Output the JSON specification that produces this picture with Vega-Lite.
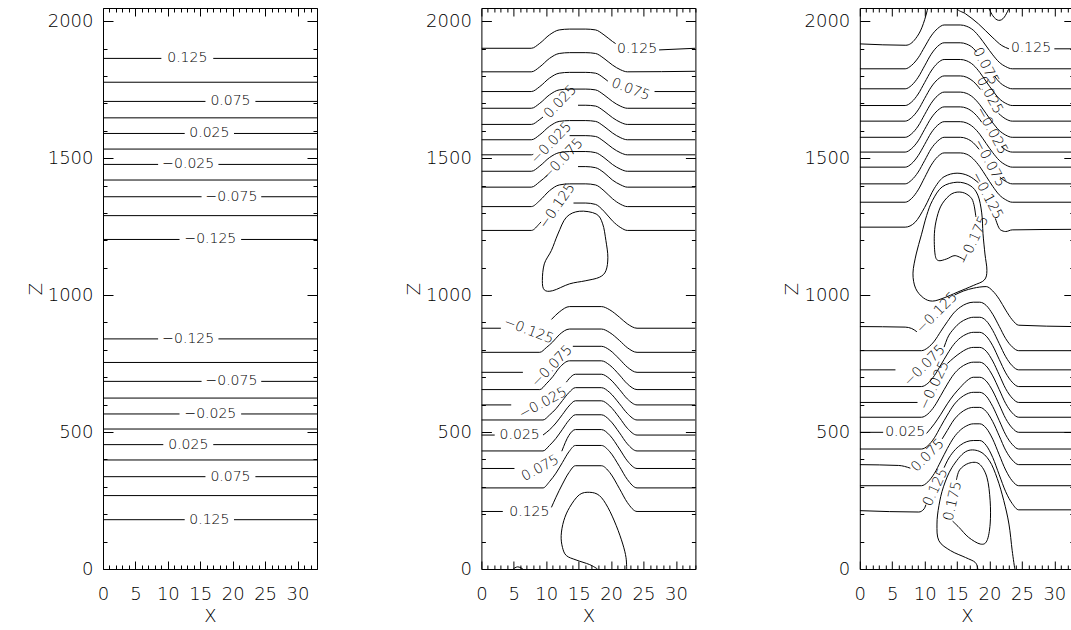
{
"$schema":"https://vega.github.io/schema/vega-lite/v6.json",
"padding":{"left":27,"top":7,"right":0,"bottom":0},
"bounds":"flush",
"spacing":164.4,
"config":{"view":{"stroke":null},
 "text":{"font":"DejaVu Sans","fontWeight":200},
 "axis":{"domainColor":"#000","tickColor":"#000","labelColor":"#000","titleColor":"#000","labelFont":"DejaVu Sans","titleFont":"DejaVu Sans","labelFontSize":18,"titleFontSize":18,"labelFontWeight":200,"titleFontWeight":200,"grid":false,"labelFlush":false,"labelOverlap":false,"domainWidth":1,"tickWidth":1,"format":"d"}},
"datasets":{
"lines":[
{"p":1,"id":"u1a","x":0,"z":1864},{"p":1,"id":"u1a","x":9.0,"z":1864},{"p":1,"id":"u1b","x":17.0,"z":1864},{"p":1,"id":"u1b","x":33,"z":1864},
{"p":1,"id":"u2","x":0,"z":1777},{"p":1,"id":"u2","x":33,"z":1777},
{"p":1,"id":"u3a","x":0,"z":1707},{"p":1,"id":"u3a","x":15.8,"z":1707},{"p":1,"id":"u3b","x":23.5,"z":1707},{"p":1,"id":"u3b","x":33,"z":1707},
{"p":1,"id":"u4","x":0,"z":1647},{"p":1,"id":"u4","x":33,"z":1647},
{"p":1,"id":"u5a","x":0,"z":1590},{"p":1,"id":"u5a","x":12.6,"z":1590},{"p":1,"id":"u5b","x":20.2,"z":1590},{"p":1,"id":"u5b","x":33,"z":1590},
{"p":1,"id":"u6","x":0,"z":1533},{"p":1,"id":"u6","x":33,"z":1533},
{"p":1,"id":"u7a","x":0,"z":1477},{"p":1,"id":"u7a","x":8.5,"z":1477},{"p":1,"id":"u7b","x":17.8,"z":1477},{"p":1,"id":"u7b","x":33,"z":1477},
{"p":1,"id":"u8","x":0,"z":1420},{"p":1,"id":"u8","x":33,"z":1420},
{"p":1,"id":"u9a","x":0,"z":1359},{"p":1,"id":"u9a","x":15.2,"z":1359},{"p":1,"id":"u9b","x":24.4,"z":1359},{"p":1,"id":"u9b","x":33,"z":1359},
{"p":1,"id":"u10","x":0,"z":1290},{"p":1,"id":"u10","x":33,"z":1290},
{"p":1,"id":"u11a","x":0,"z":1203},{"p":1,"id":"u11a","x":11.8,"z":1203},{"p":1,"id":"u11b","x":21.3,"z":1203},{"p":1,"id":"u11b","x":33,"z":1203},
{"p":1,"id":"d1a","x":0,"z":840},{"p":1,"id":"d1a","x":8.5,"z":840},{"p":1,"id":"d1b","x":17.8,"z":840},{"p":1,"id":"d1b","x":33,"z":840},
{"p":1,"id":"d2","x":0,"z":754},{"p":1,"id":"d2","x":33,"z":754},
{"p":1,"id":"d3a","x":0,"z":685},{"p":1,"id":"d3a","x":15.2,"z":685},{"p":1,"id":"d3b","x":24.4,"z":685},{"p":1,"id":"d3b","x":33,"z":685},
{"p":1,"id":"d4","x":0,"z":624},{"p":1,"id":"d4","x":33,"z":624},
{"p":1,"id":"d5a","x":0,"z":566},{"p":1,"id":"d5a","x":11.8,"z":566},{"p":1,"id":"d5b","x":21.3,"z":566},{"p":1,"id":"d5b","x":33,"z":566},
{"p":1,"id":"d6","x":0,"z":511},{"p":1,"id":"d6","x":33,"z":511},
{"p":1,"id":"d7a","x":0,"z":454},{"p":1,"id":"d7a","x":9.3,"z":454},{"p":1,"id":"d7b","x":17.0,"z":454},{"p":1,"id":"d7b","x":33,"z":454},
{"p":1,"id":"d8","x":0,"z":398},{"p":1,"id":"d8","x":33,"z":398},
{"p":1,"id":"d9a","x":0,"z":337},{"p":1,"id":"d9a","x":15.8,"z":337},{"p":1,"id":"d9b","x":23.5,"z":337},{"p":1,"id":"d9b","x":33,"z":337},
{"p":1,"id":"d10","x":0,"z":268},{"p":1,"id":"d10","x":33,"z":268},
{"p":1,"id":"d11a","x":0,"z":180},{"p":1,"id":"d11a","x":12.6,"z":180},{"p":1,"id":"d11b","x":20.2,"z":180},{"p":1,"id":"d11b","x":33,"z":180},

{"p":2,"id":"u1a","x":0,"z":1901},{"p":2,"id":"u1a","x":7.7,"z":1901},{"p":2,"id":"u1a","x":9,"z":1919},{"p":2,"id":"u1a","x":10.5,"z":1950},{"p":2,"id":"u1a","x":12,"z":1968},{"p":2,"id":"u1a","x":13.6,"z":1971},{"p":2,"id":"u1a","x":16.1,"z":1971},{"p":2,"id":"u1a","x":17.6,"z":1968},{"p":2,"id":"u1a","x":18.9,"z":1950},{"p":2,"id":"u1a","x":20.2,"z":1926},{"p":2,"id":"u1a","x":20.7,"z":1918},
{"p":2,"id":"u1b","x":27.4,"z":1895},{"p":2,"id":"u1b","x":33,"z":1901},
{"p":2,"id":"u2","x":0,"z":1815},{"p":2,"id":"u2","x":7.7,"z":1815},{"p":2,"id":"u2","x":9,"z":1833},{"p":2,"id":"u2","x":10.5,"z":1864},{"p":2,"id":"u2","x":12,"z":1882},{"p":2,"id":"u2","x":13.6,"z":1885},{"p":2,"id":"u2","x":16.1,"z":1885},{"p":2,"id":"u2","x":17.6,"z":1882},{"p":2,"id":"u2","x":18.9,"z":1864},{"p":2,"id":"u2","x":20.2,"z":1840},{"p":2,"id":"u2","x":21.5,"z":1822},{"p":2,"id":"u2","x":22.5,"z":1815},{"p":2,"id":"u2","x":33,"z":1817},
{"p":2,"id":"u3a","x":0,"z":1743},{"p":2,"id":"u3a","x":7.7,"z":1743},{"p":2,"id":"u3a","x":9,"z":1761},{"p":2,"id":"u3a","x":10.5,"z":1792},{"p":2,"id":"u3a","x":12,"z":1810},{"p":2,"id":"u3a","x":13.6,"z":1813},{"p":2,"id":"u3a","x":16.1,"z":1813},{"p":2,"id":"u3a","x":17.6,"z":1810},{"p":2,"id":"u3a","x":18.9,"z":1792},{"p":2,"id":"u3a","x":19.5,"z":1781},
{"p":2,"id":"u3b","x":26.7,"z":1743},{"p":2,"id":"u3b","x":33,"z":1743},
{"p":2,"id":"u4","x":0,"z":1682},{"p":2,"id":"u4","x":7.7,"z":1682},{"p":2,"id":"u4","x":9,"z":1700},{"p":2,"id":"u4","x":10.5,"z":1731},{"p":2,"id":"u4","x":12,"z":1749},{"p":2,"id":"u4","x":13.6,"z":1752},{"p":2,"id":"u4","x":16.1,"z":1752},{"p":2,"id":"u4","x":17.6,"z":1749},{"p":2,"id":"u4","x":18.9,"z":1731},{"p":2,"id":"u4","x":20.2,"z":1707},{"p":2,"id":"u4","x":21.5,"z":1689},{"p":2,"id":"u4","x":22.5,"z":1682},{"p":2,"id":"u4","x":33,"z":1682},
{"p":2,"id":"u5a","x":0,"z":1623},{"p":2,"id":"u5a","x":7.7,"z":1623},{"p":2,"id":"u5a","x":9,"z":1641},{"p":2,"id":"u5a","x":9.5,"z":1650},
{"p":2,"id":"u5b","x":14.9,"z":1693},{"p":2,"id":"u5b","x":16.1,"z":1693},{"p":2,"id":"u5b","x":17.6,"z":1690},{"p":2,"id":"u5b","x":18.9,"z":1672},{"p":2,"id":"u5b","x":20.2,"z":1648},{"p":2,"id":"u5b","x":21.5,"z":1630},{"p":2,"id":"u5b","x":22.5,"z":1623},{"p":2,"id":"u5b","x":33,"z":1623},
{"p":2,"id":"u6","x":0,"z":1567},{"p":2,"id":"u6","x":7.7,"z":1567},{"p":2,"id":"u6","x":9,"z":1585},{"p":2,"id":"u6","x":10.5,"z":1616},{"p":2,"id":"u6","x":12,"z":1634},{"p":2,"id":"u6","x":13.6,"z":1637},{"p":2,"id":"u6","x":16.1,"z":1637},{"p":2,"id":"u6","x":17.6,"z":1634},{"p":2,"id":"u6","x":18.9,"z":1616},{"p":2,"id":"u6","x":20.2,"z":1592},{"p":2,"id":"u6","x":21.5,"z":1574},{"p":2,"id":"u6","x":22.5,"z":1567},{"p":2,"id":"u6","x":33,"z":1567},
{"p":2,"id":"u7a","x":0,"z":1512},{"p":2,"id":"u7a","x":7.7,"z":1512},{"p":2,"id":"u7a","x":8.0,"z":1514},
{"p":2,"id":"u7b","x":13.6,"z":1582},{"p":2,"id":"u7b","x":16.1,"z":1582},{"p":2,"id":"u7b","x":17.6,"z":1579},{"p":2,"id":"u7b","x":18.9,"z":1561},{"p":2,"id":"u7b","x":20.2,"z":1537},{"p":2,"id":"u7b","x":21.5,"z":1519},{"p":2,"id":"u7b","x":22.5,"z":1512},{"p":2,"id":"u7b","x":33,"z":1512},
{"p":2,"id":"u8","x":0,"z":1452},{"p":2,"id":"u8","x":7.7,"z":1452},{"p":2,"id":"u8","x":9,"z":1471},{"p":2,"id":"u8","x":10.5,"z":1502},{"p":2,"id":"u8","x":12,"z":1520},{"p":2,"id":"u8","x":13.6,"z":1524},{"p":2,"id":"u8","x":16.1,"z":1524},{"p":2,"id":"u8","x":17.6,"z":1520},{"p":2,"id":"u8","x":18.9,"z":1502},{"p":2,"id":"u8","x":20.2,"z":1477},{"p":2,"id":"u8","x":21.5,"z":1459},{"p":2,"id":"u8","x":22.5,"z":1452},{"p":2,"id":"u8","x":33,"z":1452},
{"p":2,"id":"u9a","x":0,"z":1394},{"p":2,"id":"u9a","x":7.7,"z":1394},{"p":2,"id":"u9a","x":9,"z":1414},{"p":2,"id":"u9a","x":10.2,"z":1438},
{"p":2,"id":"u9b","x":14.9,"z":1469},{"p":2,"id":"u9b","x":16.1,"z":1469},{"p":2,"id":"u9b","x":17.6,"z":1465},{"p":2,"id":"u9b","x":18.9,"z":1447},{"p":2,"id":"u9b","x":20.2,"z":1420},{"p":2,"id":"u9b","x":21.5,"z":1402},{"p":2,"id":"u9b","x":22.5,"z":1394},{"p":2,"id":"u9b","x":33,"z":1394},
{"p":2,"id":"u10","x":0,"z":1323},{"p":2,"id":"u10","x":7.7,"z":1323},{"p":2,"id":"u10","x":9,"z":1345},{"p":2,"id":"u10","x":10.5,"z":1381},{"p":2,"id":"u10","x":12,"z":1402},{"p":2,"id":"u10","x":13.6,"z":1406},{"p":2,"id":"u10","x":16.1,"z":1406},{"p":2,"id":"u10","x":17.6,"z":1402},{"p":2,"id":"u10","x":18.9,"z":1381},{"p":2,"id":"u10","x":20.2,"z":1352},{"p":2,"id":"u10","x":21.5,"z":1331},{"p":2,"id":"u10","x":22.5,"z":1323},{"p":2,"id":"u10","x":33,"z":1323},
{"p":2,"id":"u11a","x":0,"z":1236},{"p":2,"id":"u11a","x":7.7,"z":1236},{"p":2,"id":"u11a","x":9,"z":1262},{"p":2,"id":"u11a","x":9.2,"z":1267},
{"p":2,"id":"u11b","x":14.2,"z":1336},{"p":2,"id":"u11b","x":16.1,"z":1336},{"p":2,"id":"u11b","x":17.6,"z":1331},{"p":2,"id":"u11b","x":18.9,"z":1306},{"p":2,"id":"u11b","x":20.2,"z":1271},{"p":2,"id":"u11b","x":21.5,"z":1246},{"p":2,"id":"u11b","x":22.5,"z":1236},{"p":2,"id":"u11b","x":33,"z":1236},
{"p":2,"id":"d1a","x":0,"z":879},{"p":2,"id":"d1a","x":3.0,"z":879},
{"p":2,"id":"d1b","x":10.8,"z":911},{"p":2,"id":"d1b","x":12,"z":938},{"p":2,"id":"d1b","x":13.6,"z":958},{"p":2,"id":"d1b","x":18.5,"z":958},{"p":2,"id":"d1b","x":19.8,"z":946},{"p":2,"id":"d1b","x":21.3,"z":919},{"p":2,"id":"d1b","x":22.5,"z":895},{"p":2,"id":"d1b","x":24,"z":879},{"p":2,"id":"d1b","x":33,"z":879},
{"p":2,"id":"d2","x":0,"z":791},{"p":2,"id":"d2","x":9,"z":791},{"p":2,"id":"d2","x":10,"z":808},{"p":2,"id":"d2","x":11,"z":829},{"p":2,"id":"d2","x":12,"z":855},{"p":2,"id":"d2","x":13.6,"z":876},{"p":2,"id":"d2","x":18.5,"z":876},{"p":2,"id":"d2","x":19.8,"z":863},{"p":2,"id":"d2","x":21.3,"z":834},{"p":2,"id":"d2","x":22.5,"z":808},{"p":2,"id":"d2","x":24,"z":791},{"p":2,"id":"d2","x":33,"z":791},
{"p":2,"id":"d3a","x":0,"z":718},{"p":2,"id":"d3a","x":6.4,"z":718},
{"p":2,"id":"d3b","x":14.1,"z":813},{"p":2,"id":"d3b","x":18.5,"z":813},{"p":2,"id":"d3b","x":19.8,"z":799},{"p":2,"id":"d3b","x":21.3,"z":766},{"p":2,"id":"d3b","x":22.5,"z":737},{"p":2,"id":"d3b","x":24,"z":718},{"p":2,"id":"d3b","x":33,"z":718},
{"p":2,"id":"d4","x":0,"z":655},{"p":2,"id":"d4","x":9,"z":655},{"p":2,"id":"d4","x":10,"z":676},{"p":2,"id":"d4","x":11,"z":702},{"p":2,"id":"d4","x":12,"z":734},{"p":2,"id":"d4","x":13.6,"z":760},{"p":2,"id":"d4","x":18.5,"z":760},{"p":2,"id":"d4","x":19.8,"z":744},{"p":2,"id":"d4","x":21.3,"z":708},{"p":2,"id":"d4","x":22.5,"z":676},{"p":2,"id":"d4","x":24,"z":655},{"p":2,"id":"d4","x":33,"z":655},
{"p":2,"id":"d5a","x":0,"z":599},{"p":2,"id":"d5a","x":4.6,"z":599},
{"p":2,"id":"d5b","x":13.1,"z":682},{"p":2,"id":"d5b","x":13.5,"z":694},{"p":2,"id":"d5b","x":14.5,"z":711},{"p":2,"id":"d5b","x":18.5,"z":711},{"p":2,"id":"d5b","x":19.8,"z":694},{"p":2,"id":"d5b","x":21.3,"z":655},{"p":2,"id":"d5b","x":22.5,"z":621},{"p":2,"id":"d5b","x":24,"z":599},{"p":2,"id":"d5b","x":33,"z":599},
{"p":2,"id":"d6","x":0,"z":544},{"p":2,"id":"d6","x":9.5,"z":544},{"p":2,"id":"d6","x":10.5,"z":562},{"p":2,"id":"d6","x":11.5,"z":585},{"p":2,"id":"d6","x":12.5,"z":615},{"p":2,"id":"d6","x":13.5,"z":644},{"p":2,"id":"d6","x":14.5,"z":662},{"p":2,"id":"d6","x":18.5,"z":662},{"p":2,"id":"d6","x":19.8,"z":644},{"p":2,"id":"d6","x":21.3,"z":603},{"p":2,"id":"d6","x":22.5,"z":568},{"p":2,"id":"d6","x":24,"z":544},{"p":2,"id":"d6","x":33,"z":544},
{"p":2,"id":"d7a","x":0,"z":489},{"p":2,"id":"d7a","x":2.05,"z":489},
{"p":2,"id":"d7b","x":9.5,"z":489},{"p":2,"id":"d7b","x":10.5,"z":508},{"p":2,"id":"d7b","x":11.5,"z":533},{"p":2,"id":"d7b","x":12.5,"z":564},{"p":2,"id":"d7b","x":13.5,"z":595},{"p":2,"id":"d7b","x":14.5,"z":614},{"p":2,"id":"d7b","x":18.5,"z":614},{"p":2,"id":"d7b","x":19.8,"z":595},{"p":2,"id":"d7b","x":21.3,"z":552},{"p":2,"id":"d7b","x":22.5,"z":514},{"p":2,"id":"d7b","x":24,"z":489},{"p":2,"id":"d7b","x":33,"z":489},
{"p":2,"id":"d8","x":0,"z":431},{"p":2,"id":"d8","x":9.5,"z":431},{"p":2,"id":"d8","x":10.5,"z":451},{"p":2,"id":"d8","x":11.5,"z":477},{"p":2,"id":"d8","x":12.5,"z":510},{"p":2,"id":"d8","x":13.5,"z":543},{"p":2,"id":"d8","x":14.5,"z":563},{"p":2,"id":"d8","x":18.5,"z":563},{"p":2,"id":"d8","x":19.8,"z":543},{"p":2,"id":"d8","x":21.3,"z":497},{"p":2,"id":"d8","x":22.5,"z":457},{"p":2,"id":"d8","x":24,"z":431},{"p":2,"id":"d8","x":33,"z":431},
{"p":2,"id":"d9a","x":0,"z":367},{"p":2,"id":"d9a","x":5.1,"z":367},
{"p":2,"id":"d9b","x":12.4,"z":430},{"p":2,"id":"d9b","x":13.5,"z":488},{"p":2,"id":"d9b","x":14.5,"z":509},{"p":2,"id":"d9b","x":18.5,"z":509},{"p":2,"id":"d9b","x":19.8,"z":488},{"p":2,"id":"d9b","x":21.3,"z":438},{"p":2,"id":"d9b","x":22.5,"z":395},{"p":2,"id":"d9b","x":24,"z":367},{"p":2,"id":"d9b","x":33,"z":367},
{"p":2,"id":"d10","x":0,"z":296},{"p":2,"id":"d10","x":9.5,"z":296},{"p":2,"id":"d10","x":10.5,"z":319},{"p":2,"id":"d10","x":11.5,"z":350},{"p":2,"id":"d10","x":12.5,"z":389},{"p":2,"id":"d10","x":13.5,"z":428},{"p":2,"id":"d10","x":14.5,"z":451},{"p":2,"id":"d10","x":18.5,"z":451},{"p":2,"id":"d10","x":19.8,"z":428},{"p":2,"id":"d10","x":21.3,"z":374},{"p":2,"id":"d10","x":22.5,"z":327},{"p":2,"id":"d10","x":24,"z":296},{"p":2,"id":"d10","x":33,"z":296},
{"p":2,"id":"d11a","x":0,"z":210},{"p":2,"id":"d11a","x":3.3,"z":210},
{"p":2,"id":"d11b","x":10.8,"z":225},{"p":2,"id":"d11b","x":11.5,"z":262},{"p":2,"id":"d11b","x":12.5,"z":310},{"p":2,"id":"d11b","x":13.5,"z":352},{"p":2,"id":"d11b","x":14.5,"z":377},{"p":2,"id":"d11b","x":18.5,"z":377},{"p":2,"id":"d11b","x":19.8,"z":352},{"p":2,"id":"d11b","x":21.3,"z":293},{"p":2,"id":"d11b","x":22.5,"z":243},{"p":2,"id":"d11b","x":24,"z":210},{"p":2,"id":"d11b","x":33,"z":210},

{"p":3,"id":"u1a","x":0,"z":1917},{"p":3,"id":"u1a","x":7.1,"z":1912},{"p":3,"id":"u1a","x":8.6,"z":1936},{"p":3,"id":"u1a","x":9.6,"z":1978},{"p":3,"id":"u1a","x":10.4,"z":2039},{"p":3,"id":"u1a","x":10.8,"z":2080},
{"p":3,"id":"u1b","x":14.2,"z":2080},{"p":3,"id":"u1b","x":14.8,"z":2049},{"p":3,"id":"u1b","x":16.3,"z":2027},{"p":3,"id":"u1b","x":18.3,"z":1990},{"p":3,"id":"u1b","x":20.4,"z":1942},{"p":3,"id":"u1b","x":21.9,"z":1911},{"p":3,"id":"u1b","x":23.0,"z":1899},
{"p":3,"id":"u1c","x":30.0,"z":1899},{"p":3,"id":"u1c","x":33,"z":1899},
{"p":3,"id":"u2","x":0,"z":1826},{"p":3,"id":"u2","x":7,"z":1826},{"p":3,"id":"u2","x":8,"z":1839},{"p":3,"id":"u2","x":9,"z":1866},{"p":3,"id":"u2","x":10,"z":1906},{"p":3,"id":"u2","x":11,"z":1946},{"p":3,"id":"u2","x":12,"z":1973},{"p":3,"id":"u2","x":13,"z":1986},{"p":3,"id":"u2","x":15.5,"z":1986},{"p":3,"id":"u2","x":16.5,"z":1981},{"p":3,"id":"u2","x":17.5,"z":1967},{"p":3,"id":"u2","x":18.5,"z":1941},{"p":3,"id":"u2","x":19.5,"z":1909},{"p":3,"id":"u2","x":20.5,"z":1877},{"p":3,"id":"u2","x":21.5,"z":1850},{"p":3,"id":"u2","x":22.5,"z":1834},{"p":3,"id":"u2","x":23.5,"z":1826},{"p":3,"id":"u2","x":33,"z":1826},
{"p":3,"id":"u3a","x":0,"z":1753},{"p":3,"id":"u3a","x":7,"z":1753},{"p":3,"id":"u3a","x":8,"z":1766},{"p":3,"id":"u3a","x":9,"z":1795},{"p":3,"id":"u3a","x":10,"z":1837},{"p":3,"id":"u3a","x":11,"z":1879},{"p":3,"id":"u3a","x":12,"z":1908},{"p":3,"id":"u3a","x":13,"z":1921},{"p":3,"id":"u3a","x":15.5,"z":1921},{"p":3,"id":"u3a","x":16.5,"z":1916},{"p":3,"id":"u3a","x":17.5,"z":1901},{"p":3,"id":"u3a","x":18.0,"z":1887},
{"p":3,"id":"u3b","x":20.8,"z":1798},{"p":3,"id":"u3b","x":21.5,"z":1778},{"p":3,"id":"u3b","x":22.5,"z":1761},{"p":3,"id":"u3b","x":23.5,"z":1753},{"p":3,"id":"u3b","x":33,"z":1753},
{"p":3,"id":"u4","x":0,"z":1692},{"p":3,"id":"u4","x":7,"z":1692},{"p":3,"id":"u4","x":8,"z":1705},{"p":3,"id":"u4","x":9,"z":1734},{"p":3,"id":"u4","x":10,"z":1776},{"p":3,"id":"u4","x":11,"z":1818},{"p":3,"id":"u4","x":12,"z":1847},{"p":3,"id":"u4","x":13,"z":1860},{"p":3,"id":"u4","x":15.5,"z":1860},{"p":3,"id":"u4","x":16.5,"z":1855},{"p":3,"id":"u4","x":17.5,"z":1840},{"p":3,"id":"u4","x":18.5,"z":1813},{"p":3,"id":"u4","x":19.5,"z":1779},{"p":3,"id":"u4","x":20.5,"z":1746},{"p":3,"id":"u4","x":21.5,"z":1717},{"p":3,"id":"u4","x":22.5,"z":1700},{"p":3,"id":"u4","x":23.5,"z":1692},{"p":3,"id":"u4","x":33,"z":1692},
{"p":3,"id":"u5a","x":0,"z":1635},{"p":3,"id":"u5a","x":7,"z":1635},{"p":3,"id":"u5a","x":8,"z":1648},{"p":3,"id":"u5a","x":9,"z":1676},{"p":3,"id":"u5a","x":10,"z":1718},{"p":3,"id":"u5a","x":11,"z":1759},{"p":3,"id":"u5a","x":12,"z":1787},{"p":3,"id":"u5a","x":13,"z":1800},{"p":3,"id":"u5a","x":15.5,"z":1800},{"p":3,"id":"u5a","x":16.5,"z":1795},{"p":3,"id":"u5a","x":17.5,"z":1780},{"p":3,"id":"u5a","x":18.6,"z":1751},
{"p":3,"id":"u5b","x":21.4,"z":1663},{"p":3,"id":"u5b","x":22.5,"z":1643},{"p":3,"id":"u5b","x":23.5,"z":1635},{"p":3,"id":"u5b","x":33,"z":1635},
{"p":3,"id":"u6","x":0,"z":1576},{"p":3,"id":"u6","x":7,"z":1576},{"p":3,"id":"u6","x":8,"z":1589},{"p":3,"id":"u6","x":9,"z":1617},{"p":3,"id":"u6","x":10,"z":1659},{"p":3,"id":"u6","x":11,"z":1700},{"p":3,"id":"u6","x":12,"z":1728},{"p":3,"id":"u6","x":13,"z":1741},{"p":3,"id":"u6","x":15.5,"z":1741},{"p":3,"id":"u6","x":16.5,"z":1736},{"p":3,"id":"u6","x":17.5,"z":1721},{"p":3,"id":"u6","x":18.5,"z":1695},{"p":3,"id":"u6","x":19.5,"z":1662},{"p":3,"id":"u6","x":20.5,"z":1629},{"p":3,"id":"u6","x":21.5,"z":1601},{"p":3,"id":"u6","x":22.5,"z":1584},{"p":3,"id":"u6","x":23.5,"z":1576},{"p":3,"id":"u6","x":33,"z":1576},
{"p":3,"id":"u7a","x":0,"z":1522},{"p":3,"id":"u7a","x":7,"z":1522},{"p":3,"id":"u7a","x":8,"z":1535},{"p":3,"id":"u7a","x":9,"z":1563},{"p":3,"id":"u7a","x":10,"z":1605},{"p":3,"id":"u7a","x":11,"z":1646},{"p":3,"id":"u7a","x":12,"z":1674},{"p":3,"id":"u7a","x":13,"z":1687},{"p":3,"id":"u7a","x":15.5,"z":1687},{"p":3,"id":"u7a","x":16.5,"z":1682},{"p":3,"id":"u7a","x":17.5,"z":1667},{"p":3,"id":"u7a","x":18.5,"z":1641},{"p":3,"id":"u7a","x":18.8,"z":1631},
{"p":3,"id":"u7b","x":21.8,"z":1542},{"p":3,"id":"u7b","x":22.5,"z":1530},{"p":3,"id":"u7b","x":23.5,"z":1522},{"p":3,"id":"u7b","x":33,"z":1522},
{"p":3,"id":"u8","x":0,"z":1467},{"p":3,"id":"u8","x":7,"z":1467},{"p":3,"id":"u8","x":8,"z":1480},{"p":3,"id":"u8","x":9,"z":1509},{"p":3,"id":"u8","x":10,"z":1550},{"p":3,"id":"u8","x":11,"z":1592},{"p":3,"id":"u8","x":12,"z":1620},{"p":3,"id":"u8","x":13,"z":1633},{"p":3,"id":"u8","x":15.5,"z":1633},{"p":3,"id":"u8","x":16.5,"z":1628},{"p":3,"id":"u8","x":17.5,"z":1613},{"p":3,"id":"u8","x":18.5,"z":1587},{"p":3,"id":"u8","x":19.5,"z":1553},{"p":3,"id":"u8","x":20.5,"z":1520},{"p":3,"id":"u8","x":21.5,"z":1492},{"p":3,"id":"u8","x":22.5,"z":1475},{"p":3,"id":"u8","x":23.5,"z":1467},{"p":3,"id":"u8","x":33,"z":1467},
{"p":3,"id":"u9a","x":0,"z":1406},{"p":3,"id":"u9a","x":7,"z":1406},{"p":3,"id":"u9a","x":8,"z":1420},{"p":3,"id":"u9a","x":9,"z":1449},{"p":3,"id":"u9a","x":10,"z":1491},{"p":3,"id":"u9a","x":11,"z":1534},{"p":3,"id":"u9a","x":12,"z":1562},{"p":3,"id":"u9a","x":13,"z":1576},{"p":3,"id":"u9a","x":15.5,"z":1576},{"p":3,"id":"u9a","x":16.5,"z":1571},{"p":3,"id":"u9a","x":17.5,"z":1556},{"p":3,"id":"u9a","x":18.4,"z":1532},
{"p":3,"id":"u9b","x":21.6,"z":1430},{"p":3,"id":"u9b","x":22.5,"z":1415},{"p":3,"id":"u9b","x":23.5,"z":1406},{"p":3,"id":"u9b","x":33,"z":1406},
{"p":3,"id":"u10","x":0,"z":1339},{"p":3,"id":"u10","x":7,"z":1339},{"p":3,"id":"u10","x":8,"z":1353},{"p":3,"id":"u10","x":9,"z":1384},{"p":3,"id":"u10","x":10,"z":1429},{"p":3,"id":"u10","x":11,"z":1474},{"p":3,"id":"u10","x":12,"z":1505},{"p":3,"id":"u10","x":13,"z":1519},{"p":3,"id":"u10","x":15.5,"z":1519},{"p":3,"id":"u10","x":16.5,"z":1514},{"p":3,"id":"u10","x":17.5,"z":1497},{"p":3,"id":"u10","x":18.5,"z":1469},{"p":3,"id":"u10","x":19.5,"z":1433},{"p":3,"id":"u10","x":20.5,"z":1397},{"p":3,"id":"u10","x":21.5,"z":1366},{"p":3,"id":"u10","x":22.5,"z":1348},{"p":3,"id":"u10","x":23.5,"z":1339},{"p":3,"id":"u10","x":33,"z":1339},
{"p":3,"id":"u11a","x":0,"z":1248},{"p":3,"id":"u11a","x":7,"z":1248},{"p":3,"id":"u11a","x":8.5,"z":1265},{"p":3,"id":"u11a","x":10,"z":1320},{"p":3,"id":"u11a","x":11.5,"z":1390},{"p":3,"id":"u11a","x":13,"z":1432},{"p":3,"id":"u11a","x":15,"z":1445},{"p":3,"id":"u11a","x":16.8,"z":1435},{"p":3,"id":"u11a","x":18.3,"z":1410},
{"p":3,"id":"u11b","x":20.9,"z":1280},{"p":3,"id":"u11b","x":21.7,"z":1238},{"p":3,"id":"u11b","x":22.5,"z":1232},{"p":3,"id":"u11b","x":23.5,"z":1238},{"p":3,"id":"u11b","x":33,"z":1240},
{"p":3,"id":"d1a","x":0,"z":885},{"p":3,"id":"d1a","x":7,"z":883},{"p":3,"id":"d1a","x":8.0,"z":878},{"p":3,"id":"d1a","x":8.8,"z":866},
{"p":3,"id":"d1b","x":14.6,"z":1000},{"p":3,"id":"d1b","x":16,"z":1015},{"p":3,"id":"d1b","x":17.5,"z":1025},{"p":3,"id":"d1b","x":19.5,"z":1031},{"p":3,"id":"d1b","x":20.5,"z":1015},{"p":3,"id":"d1b","x":21.5,"z":985},{"p":3,"id":"d1b","x":22.5,"z":945},{"p":3,"id":"d1b","x":23.5,"z":910},{"p":3,"id":"d1b","x":24.5,"z":890},{"p":3,"id":"d1b","x":33,"z":885},
{"p":3,"id":"d2","x":0,"z":797},{"p":3,"id":"d2","x":9.5,"z":797},{"p":3,"id":"d2","x":10.5,"z":808},{"p":3,"id":"d2","x":11.5,"z":832},{"p":3,"id":"d2","x":12.5,"z":868},{"p":3,"id":"d2","x":13.5,"z":903},{"p":3,"id":"d2","x":14.5,"z":935},{"p":3,"id":"d2","x":15.5,"z":956},{"p":3,"id":"d2","x":16.5,"z":969},{"p":3,"id":"d2","x":17.5,"z":974},{"p":3,"id":"d2","x":18.5,"z":974},{"p":3,"id":"d2","x":19.5,"z":962},{"p":3,"id":"d2","x":20.5,"z":930},{"p":3,"id":"d2","x":21.5,"z":886},{"p":3,"id":"d2","x":22.5,"z":841},{"p":3,"id":"d2","x":23.5,"z":811},{"p":3,"id":"d2","x":24.5,"z":797},{"p":3,"id":"d2","x":33,"z":797},
{"p":3,"id":"d3a","x":0,"z":727},{"p":3,"id":"d3a","x":5.5,"z":727},
{"p":3,"id":"d3b","x":13.0,"z":810},{"p":3,"id":"d3b","x":13.5,"z":842},{"p":3,"id":"d3b","x":14.5,"z":877},{"p":3,"id":"d3b","x":15.5,"z":900},{"p":3,"id":"d3b","x":16.5,"z":913},{"p":3,"id":"d3b","x":17.5,"z":919},{"p":3,"id":"d3b","x":18.5,"z":919},{"p":3,"id":"d3b","x":19.5,"z":906},{"p":3,"id":"d3b","x":20.5,"z":871},{"p":3,"id":"d3b","x":21.5,"z":823},{"p":3,"id":"d3b","x":22.5,"z":775},{"p":3,"id":"d3b","x":23.5,"z":742},{"p":3,"id":"d3b","x":24.5,"z":727},{"p":3,"id":"d3b","x":33,"z":727},
{"p":3,"id":"d4","x":0,"z":666},{"p":3,"id":"d4","x":9.5,"z":666},{"p":3,"id":"d4","x":10.5,"z":678},{"p":3,"id":"d4","x":11.5,"z":706},{"p":3,"id":"d4","x":12.5,"z":745},{"p":3,"id":"d4","x":13.5,"z":785},{"p":3,"id":"d4","x":14.5,"z":820},{"p":3,"id":"d4","x":15.5,"z":844},{"p":3,"id":"d4","x":16.5,"z":858},{"p":3,"id":"d4","x":17.5,"z":864},{"p":3,"id":"d4","x":18.5,"z":864},{"p":3,"id":"d4","x":19.5,"z":850},{"p":3,"id":"d4","x":20.5,"z":815},{"p":3,"id":"d4","x":21.5,"z":765},{"p":3,"id":"d4","x":22.5,"z":716},{"p":3,"id":"d4","x":23.5,"z":682},{"p":3,"id":"d4","x":24.5,"z":666},{"p":3,"id":"d4","x":33,"z":666},
{"p":3,"id":"d5a","x":0,"z":608},{"p":3,"id":"d5a","x":8.9,"z":608},
{"p":3,"id":"d5b","x":13.5,"z":750},{"p":3,"id":"d5b","x":14.5,"z":771},{"p":3,"id":"d5b","x":15.5,"z":789},{"p":3,"id":"d5b","x":16.5,"z":803},{"p":3,"id":"d5b","x":17.5,"z":809},{"p":3,"id":"d5b","x":18.5,"z":809},{"p":3,"id":"d5b","x":19.5,"z":795},{"p":3,"id":"d5b","x":20.5,"z":759},{"p":3,"id":"d5b","x":21.5,"z":709},{"p":3,"id":"d5b","x":22.5,"z":658},{"p":3,"id":"d5b","x":23.5,"z":624},{"p":3,"id":"d5b","x":24.5,"z":608},{"p":3,"id":"d5b","x":33,"z":608},
{"p":3,"id":"d6","x":0,"z":554},{"p":3,"id":"d6","x":9.5,"z":554},{"p":3,"id":"d6","x":10.5,"z":566},{"p":3,"id":"d6","x":11.5,"z":594},{"p":3,"id":"d6","x":12.5,"z":634},{"p":3,"id":"d6","x":13.5,"z":675},{"p":3,"id":"d6","x":14.5,"z":711},{"p":3,"id":"d6","x":15.5,"z":735},{"p":3,"id":"d6","x":16.5,"z":749},{"p":3,"id":"d6","x":17.5,"z":755},{"p":3,"id":"d6","x":18.5,"z":755},{"p":3,"id":"d6","x":19.5,"z":741},{"p":3,"id":"d6","x":20.5,"z":705},{"p":3,"id":"d6","x":21.5,"z":655},{"p":3,"id":"d6","x":22.5,"z":604},{"p":3,"id":"d6","x":23.5,"z":570},{"p":3,"id":"d6","x":24.5,"z":554},{"p":3,"id":"d6","x":33,"z":554},
{"p":3,"id":"d7a","x":0,"z":499},{"p":3,"id":"d7a","x":3.6,"z":499},
{"p":3,"id":"d7b","x":10.3,"z":495},{"p":3,"id":"d7b","x":11.5,"z":530},{"p":3,"id":"d7b","x":12.5,"z":565},{"p":3,"id":"d7b","x":13.5,"z":603},{"p":3,"id":"d7b","x":14.5,"z":636},{"p":3,"id":"d7b","x":15.5,"z":663},{"p":3,"id":"d7b","x":16.5,"z":687},{"p":3,"id":"d7b","x":17.5,"z":700},{"p":3,"id":"d7b","x":18.5,"z":700},{"p":3,"id":"d7b","x":19.5,"z":686},{"p":3,"id":"d7b","x":20.5,"z":650},{"p":3,"id":"d7b","x":21.5,"z":600},{"p":3,"id":"d7b","x":22.5,"z":549},{"p":3,"id":"d7b","x":23.5,"z":515},{"p":3,"id":"d7b","x":24.5,"z":499},{"p":3,"id":"d7b","x":33,"z":499},
{"p":3,"id":"d8","x":0,"z":438},{"p":3,"id":"d8","x":9.5,"z":438},{"p":3,"id":"d8","x":10.5,"z":450},{"p":3,"id":"d8","x":11.5,"z":479},{"p":3,"id":"d8","x":12.5,"z":521},{"p":3,"id":"d8","x":13.5,"z":562},{"p":3,"id":"d8","x":14.5,"z":599},{"p":3,"id":"d8","x":15.5,"z":624},{"p":3,"id":"d8","x":16.5,"z":639},{"p":3,"id":"d8","x":17.5,"z":645},{"p":3,"id":"d8","x":18.5,"z":645},{"p":3,"id":"d8","x":19.5,"z":631},{"p":3,"id":"d8","x":20.5,"z":593},{"p":3,"id":"d8","x":21.5,"z":542},{"p":3,"id":"d8","x":22.5,"z":490},{"p":3,"id":"d8","x":23.5,"z":455},{"p":3,"id":"d8","x":24.5,"z":438},{"p":3,"id":"d8","x":33,"z":438},
{"p":3,"id":"d9a","x":0,"z":381},{"p":3,"id":"d9a","x":6,"z":378},{"p":3,"id":"d9a","x":7.8,"z":368},
{"p":3,"id":"d9b","x":12.7,"z":475},{"p":3,"id":"d9b","x":13.5,"z":506},{"p":3,"id":"d9b","x":14.5,"z":544},{"p":3,"id":"d9b","x":15.5,"z":569},{"p":3,"id":"d9b","x":16.5,"z":584},{"p":3,"id":"d9b","x":17.5,"z":590},{"p":3,"id":"d9b","x":18.5,"z":590},{"p":3,"id":"d9b","x":19.5,"z":575},{"p":3,"id":"d9b","x":20.5,"z":538},{"p":3,"id":"d9b","x":21.5,"z":486},{"p":3,"id":"d9b","x":22.5,"z":433},{"p":3,"id":"d9b","x":23.5,"z":398},{"p":3,"id":"d9b","x":24.5,"z":381},{"p":3,"id":"d9b","x":33,"z":381},
{"p":3,"id":"d10","x":0,"z":304},{"p":3,"id":"d10","x":9.5,"z":304},{"p":3,"id":"d10","x":10.5,"z":318},{"p":3,"id":"d10","x":11.5,"z":349},{"p":3,"id":"d10","x":12.5,"z":394},{"p":3,"id":"d10","x":13.5,"z":440},{"p":3,"id":"d10","x":14.5,"z":480},{"p":3,"id":"d10","x":15.5,"z":507},{"p":3,"id":"d10","x":16.5,"z":523},{"p":3,"id":"d10","x":17.5,"z":530},{"p":3,"id":"d10","x":18.5,"z":530},{"p":3,"id":"d10","x":19.5,"z":514},{"p":3,"id":"d10","x":20.5,"z":474},{"p":3,"id":"d10","x":21.5,"z":417},{"p":3,"id":"d10","x":22.5,"z":361},{"p":3,"id":"d10","x":23.5,"z":322},{"p":3,"id":"d10","x":24.5,"z":304},{"p":3,"id":"d10","x":33,"z":304},
{"p":3,"id":"d11a","x":0,"z":213},{"p":3,"id":"d11a","x":9.1,"z":208},{"p":3,"id":"d11a","x":9.9,"z":219},{"p":3,"id":"d11a","x":10.2,"z":235},
{"p":3,"id":"d11b","x":13.0,"z":370},{"p":3,"id":"d11b","x":13.5,"z":395},{"p":3,"id":"d11b","x":14.5,"z":430},{"p":3,"id":"d11b","x":15.5,"z":452},{"p":3,"id":"d11b","x":16.5,"z":465},{"p":3,"id":"d11b","x":17.5,"z":469},{"p":3,"id":"d11b","x":18.5,"z":469},{"p":3,"id":"d11b","x":19.5,"z":451},{"p":3,"id":"d11b","x":20.5,"z":407},{"p":3,"id":"d11b","x":21.5,"z":344},{"p":3,"id":"d11b","x":22.5,"z":282},{"p":3,"id":"d11b","x":23.5,"z":239},{"p":3,"id":"d11b","x":24.5,"z":216},{"p":3,"id":"d11b","x":33,"z":216}
],
"paths":[
{"p":2,"id":"lp","i":1,"x":17.9,"z":0},{"p":2,"id":"lp","i":2,"x":16.7,"z":16},{"p":2,"id":"lp","i":3,"x":14.6,"z":33},{"p":2,"id":"lp","i":4,"x":13.1,"z":49},{"p":2,"id":"lp","i":5,"x":12.5,"z":79},{"p":2,"id":"lp","i":6,"x":12.3,"z":122},{"p":2,"id":"lp","i":7,"x":12.7,"z":176},{"p":2,"id":"lp","i":8,"x":13.6,"z":225},{"p":2,"id":"lp","i":9,"x":15.1,"z":271},{"p":2,"id":"lp","i":10,"x":16.7,"z":280},{"p":2,"id":"lp","i":11,"x":18.2,"z":268},{"p":2,"id":"lp","i":12,"x":19.5,"z":225},{"p":2,"id":"lp","i":13,"x":20.8,"z":158},{"p":2,"id":"lp","i":14,"x":21.8,"z":91},{"p":2,"id":"lp","i":15,"x":22.3,"z":42},{"p":2,"id":"lp","i":16,"x":22.4,"z":0},
{"p":2,"id":"tb","i":1,"x":4.9,"z":0},{"p":2,"id":"tb","i":2,"x":5.6,"z":8},{"p":2,"id":"tb","i":3,"x":6.4,"z":0},
{"p":3,"id":"v","i":1,"x":19.6,"z":2062},{"p":3,"id":"v","i":2,"x":20.5,"z":2020},{"p":3,"id":"v","i":3,"x":21.4,"z":2003},{"p":3,"id":"v","i":4,"x":22.3,"z":2015},{"p":3,"id":"v","i":5,"x":23.3,"z":2062},
{"p":3,"id":"in","i":1,"x":17.9,"z":1285},{"p":3,"id":"in","i":2,"x":17.6,"z":1330},{"p":3,"id":"in","i":3,"x":17.1,"z":1357},{"p":3,"id":"in","i":4,"x":15.8,"z":1375},{"p":3,"id":"in","i":5,"x":14.2,"z":1370},{"p":3,"id":"in","i":6,"x":12.7,"z":1333},{"p":3,"id":"in","i":7,"x":11.9,"z":1284},{"p":3,"id":"in","i":8,"x":11.5,"z":1224},{"p":3,"id":"in","i":9,"x":11.6,"z":1150},{"p":3,"id":"in","i":10,"x":12.1,"z":1126},{"p":3,"id":"in","i":11,"x":13.4,"z":1132},{"p":3,"id":"in","i":12,"x":14.7,"z":1144},{"p":3,"id":"in","i":13,"x":16.2,"z":1128},
{"p":3,"id":"b","i":1,"x":18.2,"z":0},{"p":3,"id":"b","i":2,"x":17.8,"z":24},{"p":3,"id":"b","i":3,"x":16.3,"z":42},{"p":3,"id":"b","i":4,"x":14.0,"z":67},{"p":3,"id":"b","i":5,"x":12.2,"z":103},{"p":3,"id":"b","i":6,"x":11.9,"z":164},{"p":3,"id":"b","i":7,"x":12.2,"z":231},{"p":3,"id":"b","i":8,"x":12.9,"z":300},{"p":3,"id":"b","i":9,"x":14.2,"z":370},{"p":3,"id":"b","i":10,"x":16.3,"z":428},{"p":3,"id":"b","i":11,"x":18.4,"z":430},{"p":3,"id":"b","i":12,"x":20.0,"z":395},{"p":3,"id":"b","i":13,"x":21.2,"z":330},{"p":3,"id":"b","i":14,"x":22.2,"z":250},{"p":3,"id":"b","i":15,"x":23.0,"z":164},{"p":3,"id":"b","i":16,"x":23.5,"z":67},{"p":3,"id":"b","i":17,"x":23.9,"z":0},
{"p":3,"id":"c","i":1,"x":14.9,"z":325},{"p":3,"id":"c","i":2,"x":15.4,"z":362},{"p":3,"id":"c","i":3,"x":16.8,"z":386},{"p":3,"id":"c","i":4,"x":18.4,"z":384},{"p":3,"id":"c","i":5,"x":19.6,"z":335},{"p":3,"id":"c","i":6,"x":20.1,"z":249},{"p":3,"id":"c","i":7,"x":20.1,"z":164},{"p":3,"id":"c","i":8,"x":19.6,"z":103},{"p":3,"id":"c","i":9,"x":18.6,"z":91},{"p":3,"id":"c","i":10,"x":16.8,"z":115},{"p":3,"id":"c","i":11,"x":15.3,"z":152},{"p":3,"id":"c","i":12,"x":14.3,"z":175}
],
"rings":[
{"p":2,"id":"ul","i":1,"x":15.1,"z":1306},{"p":2,"id":"ul","i":2,"x":17.7,"z":1296},{"p":2,"id":"ul","i":3,"x":18.7,"z":1260},{"p":2,"id":"ul","i":4,"x":19.2,"z":1199},{"p":2,"id":"ul","i":5,"x":19.5,"z":1138},{"p":2,"id":"ul","i":6,"x":19.2,"z":1089},{"p":2,"id":"ul","i":7,"x":18.2,"z":1065},{"p":2,"id":"ul","i":8,"x":16.0,"z":1052},{"p":2,"id":"ul","i":9,"x":13.6,"z":1041},{"p":2,"id":"ul","i":10,"x":11.0,"z":1016},{"p":2,"id":"ul","i":11,"x":9.7,"z":1019},{"p":2,"id":"ul","i":12,"x":9.4,"z":1053},{"p":2,"id":"ul","i":13,"x":9.7,"z":1114},{"p":2,"id":"ul","i":14,"x":10.8,"z":1163},{"p":2,"id":"ul","i":15,"x":11.8,"z":1223},{"p":2,"id":"ul","i":16,"x":13.1,"z":1284},
{"p":3,"id":"o","i":1,"x":15.0,"z":1412},{"p":3,"id":"o","i":2,"x":17.0,"z":1400},{"p":3,"id":"o","i":3,"x":18.2,"z":1365},{"p":3,"id":"o","i":4,"x":18.8,"z":1300},{"p":3,"id":"o","i":5,"x":19.0,"z":1224},{"p":3,"id":"o","i":6,"x":19.3,"z":1150},{"p":3,"id":"o","i":7,"x":19.6,"z":1090},{"p":3,"id":"o","i":8,"x":19.2,"z":1055},{"p":3,"id":"o","i":9,"x":17.5,"z":1035},{"p":3,"id":"o","i":10,"x":15.0,"z":1010},{"p":3,"id":"o","i":11,"x":13.0,"z":990},{"p":3,"id":"o","i":12,"x":11.2,"z":978},{"p":3,"id":"o","i":13,"x":9.8,"z":990},{"p":3,"id":"o","i":14,"x":8.6,"z":1025},{"p":3,"id":"o","i":15,"x":8.2,"z":1080},{"p":3,"id":"o","i":16,"x":8.7,"z":1150},{"p":3,"id":"o","i":17,"x":9.5,"z":1220},{"p":3,"id":"o","i":18,"x":10.3,"z":1290},{"p":3,"id":"o","i":19,"x":11.2,"z":1345},{"p":3,"id":"o","i":20,"x":12.7,"z":1395}
],
"lab1":[
{"x":13.0,"z":1864,"t":"0.125"},{"x":19.65,"z":1707,"t":"0.075"},{"x":16.4,"z":1590,"t":"0.025"},{"x":13.15,"z":1477,"t":"−0.025"},{"x":19.8,"z":1359,"t":"−0.075"},{"x":16.55,"z":1203,"t":"−0.125"},
{"x":13.15,"z":840,"t":"−0.125"},{"x":19.8,"z":685,"t":"−0.075"},{"x":16.55,"z":566,"t":"−0.025"},{"x":13.15,"z":454,"t":"0.025"},{"x":19.65,"z":337,"t":"0.075"},{"x":16.4,"z":180,"t":"0.125"}
],
"lab2a":[{"x":24.0,"z":1898,"t":"0.125"},{"x":5.9,"z":490,"t":"0.025"},{"x":7.4,"z":209,"t":"0.125"}],
"lab2b":[{"x":23.0,"z":1750,"t":"0.075"},{"x":7.3,"z":870,"t":"−0.125"}],
"lab2c":[{"x":12.2,"z":1706,"t":"0.025"},{"x":10.8,"z":1555,"t":"−0.025"},{"x":12.55,"z":1495,"t":"−0.075"},{"x":10.9,"z":740,"t":"−0.075"}],
"lab2d":[{"x":11.7,"z":1325,"t":"−0.125"}],
"lab2e":[{"x":9.5,"z":605,"t":"−0.025"},{"x":9.1,"z":368,"t":"0.075"}],
"lab3a":[{"x":26.4,"z":1901,"t":"0.125"},{"x":7.0,"z":499,"t":"0.025"}],
"lab3b":[{"x":19.4,"z":1835,"t":"0.075"},{"x":20.0,"z":1729,"t":"0.025"},{"x":20.3,"z":1600,"t":"−0.025"},{"x":20.0,"z":1482,"t":"−0.075"},{"x":19.6,"z":1363,"t":"−0.125"}],
"lab3c":[{"x":17.6,"z":1200,"t":"−0.175"},{"x":11.5,"z":670,"t":"−0.025"},{"x":11.7,"z":298,"t":"0.125"}],
"lab3d":[{"x":11.9,"z":935,"t":"−0.125"},{"x":10.0,"z":742,"t":"−0.075"},{"x":10.5,"z":414,"t":"0.075"}],
"lab3e":[{"x":14.35,"z":248,"t":"0.175"}]
},
"hconcat":[
{"width":214,"height":561,
 "layer":[
  {"data":{"name":"lines"},"transform":[{"filter":"datum.p==1"}],
   "mark":{"type":"line","interpolate":"monotone","clip":true,"stroke":"#000","strokeWidth":1},
   "encoding":{
    "x":{"field":"x","type":"quantitative","scale":{"domain":[0,33],"nice":false,"zero":false},"axis":{"orient":"bottom","values":[0,1,2,3,4,5,6,7,8,9,10,11,12,13,14,15,16,17,18,19,20,21,22,23,24,25,26,27,28,29,30,31,32,33],"tickSize":{"condition":{"test":"datum.value % 5 === 0","value":-8},"value":-4},"labelExpr":"datum.value % 5 === 0 ? datum.label : ''","labelPadding":24,"title":"X","titlePadding":0}},
    "y":{"field":"z","type":"quantitative","scale":{"domain":[0,2048],"nice":false,"zero":false},"axis":{"orient":"left","values":[0,100,200,300,400,500,600,700,800,900,1000,1100,1200,1300,1400,1500,1600,1700,1800,1900,2000],"tickSize":{"condition":{"test":"datum.value % 500 === 0","value":-10},"value":-4},"labelExpr":"datum.value % 500 === 0 ? datum.label : ''","labelPadding":20,"title":"Z","titlePadding":2}},
    "detail":{"field":"id"},"order":{"field":"x"}}},
  {"data":{"name":"lab1"},
   "mark":{"type":"text","fontSize":14,"baseline":"middle","align":"center","fill":"#000"},
   "encoding":{
    "x":{"field":"x","type":"quantitative","scale":{"domain":[0,33],"nice":false,"zero":false},"axis":{"orient":"top","values":[0,1,2,3,4,5,6,7,8,9,10,11,12,13,14,15,16,17,18,19,20,21,22,23,24,25,26,27,28,29,30,31,32,33],"tickSize":{"condition":{"test":"datum.value % 5 === 0","value":-8},"value":-4},"labels":false,"title":null}},
    "y":{"field":"z","type":"quantitative","scale":{"domain":[0,2048],"nice":false,"zero":false},"axis":{"orient":"right","values":[0,100,200,300,400,500,600,700,800,900,1000,1100,1200,1300,1400,1500,1600,1700,1800,1900,2000],"tickSize":{"condition":{"test":"datum.value % 500 === 0","value":-10},"value":-4},"labels":false,"title":null}},
    "text":{"field":"t"}}}
 ],
 "resolve":{"axis":{"x":"independent","y":"independent"}}},
{"width":214,"height":561,
 "layer":[
  {"data":{"name":"lines"},"transform":[{"filter":"datum.p==2"}],
   "mark":{"type":"line","interpolate":"monotone","clip":true,"stroke":"#000","strokeWidth":1},
   "encoding":{
    "x":{"field":"x","type":"quantitative","scale":{"domain":[0,33],"nice":false,"zero":false},"axis":{"orient":"bottom","values":[0,1,2,3,4,5,6,7,8,9,10,11,12,13,14,15,16,17,18,19,20,21,22,23,24,25,26,27,28,29,30,31,32,33],"tickSize":{"condition":{"test":"datum.value % 5 === 0","value":-8},"value":-4},"labelExpr":"datum.value % 5 === 0 ? datum.label : ''","labelPadding":24,"title":"X","titlePadding":0}},
    "y":{"field":"z","type":"quantitative","scale":{"domain":[0,2048],"nice":false,"zero":false},"axis":{"orient":"left","values":[0,100,200,300,400,500,600,700,800,900,1000,1100,1200,1300,1400,1500,1600,1700,1800,1900,2000],"tickSize":{"condition":{"test":"datum.value % 500 === 0","value":-10},"value":-4},"labelExpr":"datum.value % 500 === 0 ? datum.label : ''","labelPadding":20,"title":"Z","titlePadding":2}},
    "detail":{"field":"id"},"order":{"field":"x"}}},
  {"data":{"name":"paths"},"transform":[{"filter":"datum.p==2"}],
   "mark":{"type":"line","interpolate":"cardinal","clip":true,"stroke":"#000","strokeWidth":1},
   "encoding":{"x":{"field":"x","type":"quantitative","axis":null},"y":{"field":"z","type":"quantitative","axis":null},"detail":{"field":"id"},"order":{"field":"i"}}},
  {"data":{"name":"rings"},"transform":[{"filter":"datum.p==2"}],
   "mark":{"type":"line","interpolate":"cardinal-closed","clip":true,"stroke":"#000","strokeWidth":1},
   "encoding":{"x":{"field":"x","type":"quantitative","axis":null},"y":{"field":"z","type":"quantitative","axis":null},"detail":{"field":"id"},"order":{"field":"i"}}},
  {"data":{"name":"lab2a"},
   "mark":{"type":"text","fontSize":14,"baseline":"middle","align":"center","fill":"#000","angle":0},
   "encoding":{
    "x":{"field":"x","type":"quantitative","axis":{"orient":"top","values":[0,1,2,3,4,5,6,7,8,9,10,11,12,13,14,15,16,17,18,19,20,21,22,23,24,25,26,27,28,29,30,31,32,33],"tickSize":{"condition":{"test":"datum.value % 5 === 0","value":-8},"value":-4},"labels":false,"title":null}},
    "y":{"field":"z","type":"quantitative","axis":{"orient":"right","values":[0,100,200,300,400,500,600,700,800,900,1000,1100,1200,1300,1400,1500,1600,1700,1800,1900,2000],"tickSize":{"condition":{"test":"datum.value % 500 === 0","value":-10},"value":-4},"labels":false,"title":null}},
    "text":{"field":"t"}}},
  {"data":{"name":"lab2b"},"mark":{"type":"text","fontSize":14,"baseline":"middle","align":"center","fill":"#000","angle":21},
   "encoding":{"x":{"field":"x","type":"quantitative","axis":null},"y":{"field":"z","type":"quantitative","axis":null},"text":{"field":"t"}}},
  {"data":{"name":"lab2c"},"mark":{"type":"text","fontSize":14,"baseline":"middle","align":"center","fill":"#000","angle":-46},
   "encoding":{"x":{"field":"x","type":"quantitative","axis":null},"y":{"field":"z","type":"quantitative","axis":null},"text":{"field":"t"}}},
  {"data":{"name":"lab2d"},"mark":{"type":"text","fontSize":14,"baseline":"middle","align":"center","fill":"#000","angle":-55},
   "encoding":{"x":{"field":"x","type":"quantitative","axis":null},"y":{"field":"z","type":"quantitative","axis":null},"text":{"field":"t"}}},
  {"data":{"name":"lab2e"},"mark":{"type":"text","fontSize":14,"baseline":"middle","align":"center","fill":"#000","angle":-28},
   "encoding":{"x":{"field":"x","type":"quantitative","axis":null},"y":{"field":"z","type":"quantitative","axis":null},"text":{"field":"t"}}}
 ],
 "resolve":{"axis":{"x":"independent","y":"independent"}}},
{"width":214,"height":561,
 "layer":[
  {"data":{"name":"lines"},"transform":[{"filter":"datum.p==3"}],
   "mark":{"type":"line","interpolate":"monotone","clip":true,"stroke":"#000","strokeWidth":1},
   "encoding":{
    "x":{"field":"x","type":"quantitative","scale":{"domain":[0,33],"nice":false,"zero":false},"axis":{"orient":"bottom","values":[0,1,2,3,4,5,6,7,8,9,10,11,12,13,14,15,16,17,18,19,20,21,22,23,24,25,26,27,28,29,30,31,32,33],"tickSize":{"condition":{"test":"datum.value % 5 === 0","value":-8},"value":-4},"labelExpr":"datum.value % 5 === 0 ? datum.label : ''","labelPadding":24,"title":"X","titlePadding":0}},
    "y":{"field":"z","type":"quantitative","scale":{"domain":[0,2048],"nice":false,"zero":false},"axis":{"orient":"left","values":[0,100,200,300,400,500,600,700,800,900,1000,1100,1200,1300,1400,1500,1600,1700,1800,1900,2000],"tickSize":{"condition":{"test":"datum.value % 500 === 0","value":-10},"value":-4},"labelExpr":"datum.value % 500 === 0 ? datum.label : ''","labelPadding":20,"title":"Z","titlePadding":2}},
    "detail":{"field":"id"},"order":{"field":"x"}}},
  {"data":{"name":"paths"},"transform":[{"filter":"datum.p==3"}],
   "mark":{"type":"line","interpolate":"cardinal","clip":true,"stroke":"#000","strokeWidth":1},
   "encoding":{"x":{"field":"x","type":"quantitative","axis":null},"y":{"field":"z","type":"quantitative","axis":null},"detail":{"field":"id"},"order":{"field":"i"}}},
  {"data":{"name":"rings"},"transform":[{"filter":"datum.p==3"}],
   "mark":{"type":"line","interpolate":"cardinal-closed","clip":true,"stroke":"#000","strokeWidth":1},
   "encoding":{"x":{"field":"x","type":"quantitative","axis":null},"y":{"field":"z","type":"quantitative","axis":null},"detail":{"field":"id"},"order":{"field":"i"}}},
  {"data":{"name":"lab3a"},
   "mark":{"type":"text","fontSize":14,"baseline":"middle","align":"center","fill":"#000","angle":0},
   "encoding":{
    "x":{"field":"x","type":"quantitative","axis":{"orient":"top","values":[0,1,2,3,4,5,6,7,8,9,10,11,12,13,14,15,16,17,18,19,20,21,22,23,24,25,26,27,28,29,30,31,32,33],"tickSize":{"condition":{"test":"datum.value % 5 === 0","value":-8},"value":-4},"labels":false,"title":null}},
    "y":{"field":"z","type":"quantitative","axis":{"orient":"right","values":[0,100,200,300,400,500,600,700,800,900,1000,1100,1200,1300,1400,1500,1600,1700,1800,1900,2000],"tickSize":{"condition":{"test":"datum.value % 500 === 0","value":-10},"value":-4},"labels":false,"title":null}},
    "text":{"field":"t"}}},
  {"data":{"name":"lab3b"},"mark":{"type":"text","fontSize":14,"baseline":"middle","align":"center","fill":"#000","angle":62},
   "encoding":{"x":{"field":"x","type":"quantitative","axis":null},"y":{"field":"z","type":"quantitative","axis":null},"text":{"field":"t"}}},
  {"data":{"name":"lab3c"},"mark":{"type":"text","fontSize":14,"baseline":"middle","align":"center","fill":"#000","angle":-65},
   "encoding":{"x":{"field":"x","type":"quantitative","axis":null},"y":{"field":"z","type":"quantitative","axis":null},"text":{"field":"t"}}},
  {"data":{"name":"lab3d"},"mark":{"type":"text","fontSize":14,"baseline":"middle","align":"center","fill":"#000","angle":-45},
   "encoding":{"x":{"field":"x","type":"quantitative","axis":null},"y":{"field":"z","type":"quantitative","axis":null},"text":{"field":"t"}}},
  {"data":{"name":"lab3e"},"mark":{"type":"text","fontSize":14,"baseline":"middle","align":"center","fill":"#000","angle":-77},
   "encoding":{"x":{"field":"x","type":"quantitative","axis":null},"y":{"field":"z","type":"quantitative","axis":null},"text":{"field":"t"}}}
 ],
 "resolve":{"axis":{"x":"independent","y":"independent"}}}
]
}
